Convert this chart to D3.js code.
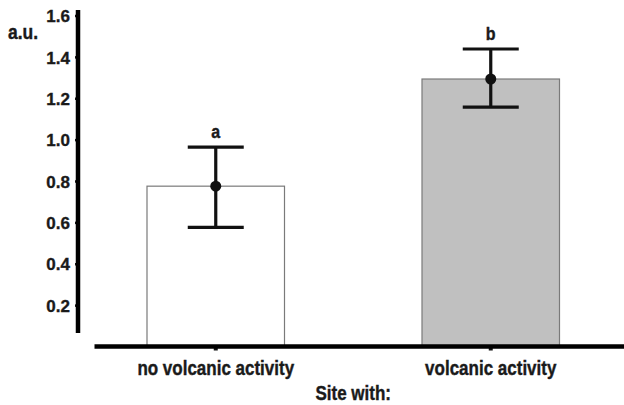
<!DOCTYPE html>
<html>
<head>
<meta charset="utf-8">
<script src="https://cdn.jsdelivr.net/npm/d3@7"></script>
<style>
  body { margin: 0; background: #fff; }
  text { font-family: "Liberation Sans", Arial, sans-serif; font-weight: bold; fill: #1a1a1a;
         stroke: #1a1a1a; stroke-width: 0.35px; }
</style>
</head>
<body>
<div id="chart"></div>
<script>
// data
const sites = ["no volcanic activity", "volcanic activity"];
const means = [0.775, 1.293];
const upper = [0.964, 1.438];
const lower = [0.576, 1.157];
const letters = ["a", "b"];
const fills = ["#ffffff", "#c0c0c0"];
const yTicks = [0.2, 0.4, 0.6, 0.8, 1.0, 1.2, 1.4, 1.6];

const width = 624, height = 405;
const stretch = 1.2; // labels in the figure look vertically stretched

const svg = d3.select("#chart").append("svg")
    .attr("width", width)
    .attr("height", height);

const x = d3.scaleBand()
    .domain(sites)
    .range([78.25, 628.25])
    .paddingInner(0.5)
    .paddingOuter(0.25);

const y = d3.scaleLinear()
    .domain([0, 1.6])
    .range([346.5, 15.5]);

// bars
svg.selectAll("rect.bar")
    .data(sites)
    .join("rect")
    .attr("class", "bar")
    .attr("x", d => x(d))
    .attr("y", (d, i) => y(means[i]))
    .attr("width", x.bandwidth())
    .attr("height", (d, i) => y(0) - y(means[i]))
    .attr("fill", (d, i) => fills[i])
    .attr("stroke", "#7a7a7a")
    .attr("stroke-width", 1.2);

// y axis
const yAxis = svg.append("g")
    .attr("transform", "translate(78,0)")
    .call(d3.axisLeft(y).tickValues(yTicks).tickSize(3).tickPadding(5)
        .tickFormat(d3.format(".1f")));
yAxis.select(".domain").remove();
yAxis.selectAll(".tick line").attr("stroke", "#111").attr("stroke-width", 2.5);
yAxis.selectAll(".tick text").style("font-size", "17px").attr("dy", "0.36em");
yAxis.append("line")
    .attr("x1", 0).attr("x2", 0)
    .attr("y1", 10).attr("y2", 333)
    .attr("stroke", "#000").attr("stroke-width", 4.5);

// x axis
const xAxis = svg.append("g")
    .attr("transform", "translate(0," + y(0) + ")")
    .call(d3.axisBottom(x).tickSize(4));
xAxis.select(".domain").remove();
xAxis.selectAll(".tick line").attr("stroke", "#111").attr("stroke-width", 4);
xAxis.selectAll(".tick text")
    .style("font-size", "17px")
    .attr("dy", null)
    .attr("y", 28.5 / stretch)
    .attr("transform", "scale(1," + stretch + ")");
xAxis.append("line")
    .attr("x1", 94.5).attr("x2", width)
    .attr("y1", 0).attr("y2", 0)
    .attr("stroke", "#000").attr("stroke-width", 4.5);

// error bars
const cap = 28;
const eb = svg.selectAll("g.err")
    .data(sites)
    .join("g")
    .attr("class", "err")
    .attr("transform", d => "translate(" + (x(d) + x.bandwidth() / 2) + ",0)");

eb.append("line")
    .attr("y1", (d, i) => y(upper[i]))
    .attr("y2", (d, i) => y(lower[i]))
    .attr("stroke", "#111").attr("stroke-width", 3.2);
eb.append("line")
    .attr("x1", -cap).attr("x2", cap)
    .attr("y1", (d, i) => y(upper[i])).attr("y2", (d, i) => y(upper[i]))
    .attr("stroke", "#111").attr("stroke-width", 3.2);
eb.append("line")
    .attr("x1", -cap).attr("x2", cap)
    .attr("y1", (d, i) => y(lower[i])).attr("y2", (d, i) => y(lower[i]))
    .attr("stroke", "#111").attr("stroke-width", 3.2);
eb.append("circle")
    .attr("cy", (d, i) => y(means[i]))
    .attr("r", 5.5)
    .attr("fill", "#111");
eb.append("text")
    .attr("y", (d, i) => (y(upper[i]) - 9) / 1.1)
    .attr("transform", "scale(1,1.1)")
    .attr("text-anchor", "middle")
    .style("font-size", "16px")
    .text((d, i) => letters[i]);

// axis titles
svg.append("text")
    .attr("x", 8).attr("y", 39 / stretch)
    .attr("transform", "scale(1," + stretch + ")")
    .style("font-size", "17.5px")
    .text("a.u.");
svg.append("text")
    .attr("x", (x(sites[0]) + x(sites[1]) + x.bandwidth()) / 2)
    .attr("y", 400 / stretch)
    .attr("transform", "scale(1," + stretch + ")")
    .attr("text-anchor", "middle")
    .style("font-size", "17px")
    .text("Site with:");
</script>
</body>
</html>
